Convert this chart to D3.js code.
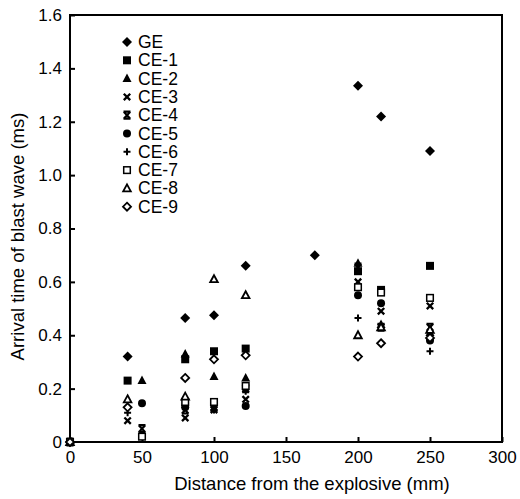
<!DOCTYPE html>
<html>
<head>
<meta charset="utf-8">
<script src="https://cdn.jsdelivr.net/npm/d3@7"></script>
<style>
  body { margin: 0; background: #fff; }
  svg { font-family: "Liberation Sans", Arial, sans-serif; }
</style>
</head>
<body>
<div id="chart-area"></div>
<script>
// each series: [distance (mm), arrival time (ms)]
const seriesNames = ["GE", "CE-1", "CE-2", "CE-3", "CE-4", "CE-5", "CE-6", "CE-7", "CE-8", "CE-9"];
const ge  = [[0, 0], [40, 0.32], [80, 0.465], [100, 0.475], [122, 0.66], [170, 0.70], [200, 1.335], [216, 1.22], [250, 1.09]];
const ce1 = [[0, 0], [40, 0.23], [80, 0.31], [100, 0.34], [122, 0.35], [200, 0.64], [216, 0.57], [250, 0.66]];
const ce2 = [[0, 0], [50, 0.23], [80, 0.33], [100, 0.245], [122, 0.24], [200, 0.67], [216, 0.44], [250, 0.41]];
const ce3 = [[0, 0], [40, 0.08], [80, 0.09], [100, 0.12], [122, 0.16], [200, 0.60], [216, 0.49], [250, 0.51]];
const ce4 = [[0, 0], [50, 0.05], [80, 0.12], [100, 0.13], [122, 0.20], [200, 0.655], [216, 0.43], [250, 0.43]];
const ce5 = [[0, 0], [50, 0.145], [80, 0.13], [100, 0.14], [122, 0.135], [200, 0.55], [216, 0.52], [250, 0.38]];
const ce6 = [[0, 0], [40, 0.11], [80, 0.14], [100, 0.12], [122, 0.19], [200, 0.465], [216, 0.44], [250, 0.34]];
const ce7 = [[0, 0], [50, 0.02], [80, 0.15], [100, 0.15], [122, 0.21], [200, 0.58], [216, 0.56], [250, 0.54]];
const ce8 = [[0, 0], [40, 0.16], [80, 0.17], [100, 0.61], [122, 0.55], [200, 0.40], [216, 0.43], [250, 0.42]];
const ce9 = [[0, 0], [40, 0.13], [80, 0.24], [100, 0.31], [122, 0.325], [200, 0.32], [216, 0.37], [250, 0.39]];
const seriesValues = [ge, ce1, ce2, ce3, ce4, ce5, ce6, ce7, ce8, ce9];
const markerTypes = ["diamond", "square", "triangle", "x", "star", "circle", "plus", "osquare", "otriangle", "odiamond"];

const xTicks = [0, 50, 100, 150, 200, 250, 300];
const yTicks = [0, 0.2, 0.4, 0.6, 0.8, 1.0, 1.2, 1.4, 1.6];

const width = 520, height = 499;
const margin = { top: 15, left: 70, right: 18, bottom: 57 };
const plotW = width - margin.left - margin.right;
const plotH = height - margin.top - margin.bottom;

const svg = d3.select("#chart-area")
              .append("svg")
              .attr("width", width)
              .attr("height", height);

const x = d3.scaleLinear().domain([0, 300]).range([0, plotW]);
const y = d3.scaleLinear().domain([0, 1.6]).range([plotH, 0]);

const plot = svg.append("g")
                .attr("transform", `translate(${margin.left},${margin.top})`);

plot.append("g")
    .attr("transform", `translate(0,${plotH})`)
    .call(d3.axisBottom(x).tickValues(xTicks).tickSize(-5).tickPadding(9))
    .call(g => g.select(".domain").remove())
    .call(g => g.selectAll("line").attr("stroke-width", 2))
    .call(g => g.selectAll("text").attr("font-size", 17).attr("fill", "#000"));

plot.append("g")
    .call(d3.axisLeft(y).tickValues(yTicks).tickSize(-5).tickPadding(8)
          .tickFormat(d => d === 0 ? "0" : d3.format(".1f")(d)))
    .call(g => g.select(".domain").remove())
    .call(g => g.selectAll("line").attr("stroke-width", 2))
    .call(g => g.selectAll("text").attr("font-size", 17).attr("fill", "#000"));

plot.append("rect")
    .attr("width", plotW)
    .attr("height", plotH)
    .attr("fill", "none")
    .attr("stroke", "#000")
    .attr("stroke-width", 2);

// marker drawing
const drawMarker = (g, type) => {
  const r = 4;
  const tri = `M0,${-r - 1}L${r + 0.5},${r - 0.5}L${-r - 0.5},${r - 0.5}Z`;
  const otri = "M0,-4L3.8,3L-3.8,3Z";
  const dia = `M0,${-r - 1}L${r + 1},0L0,${r + 1}L${-r - 1},0Z`;
  const odia = "M0,-4L4,0L0,4L-4,0Z";
  if (type === "diamond") g.append("path").attr("d", dia).attr("fill", "#000");
  if (type === "square") g.append("rect").attr("x", -4).attr("y", -4).attr("width", 8).attr("height", 8).attr("fill", "#000");
  if (type === "triangle") g.append("path").attr("d", tri).attr("fill", "#000");
  if (type === "circle") g.append("circle").attr("r", r).attr("fill", "#000");
  if (type === "osquare") g.append("rect").attr("x", -3.3).attr("y", -3.3).attr("width", 6.6).attr("height", 6.6)
                            .attr("fill", "#fff").attr("stroke", "#000").attr("stroke-width", 1.5);
  if (type === "otriangle") g.append("path").attr("d", otri).attr("fill", "#fff").attr("stroke", "#000").attr("stroke-width", 1.8);
  if (type === "odiamond") g.append("path").attr("d", odia).attr("fill", "#fff").attr("stroke", "#000").attr("stroke-width", 1.8);
  if (type === "x") g.append("path").attr("d", "M-3.2,-3.2L3.2,3.2M3.2,-3.2L-3.2,3.2")
                     .attr("stroke", "#000").attr("stroke-width", 2.3);
  if (type === "star") g.append("path").attr("d", "M-3.2,-3.5L3.2,3.5M3.2,-3.5L-3.2,3.5M-3.5,-3.5L3.5,-3.5M-3.5,3.5L3.5,3.5")
                        .attr("stroke", "#000").attr("stroke-width", 2.2);
  if (type === "plus") g.append("path").attr("d", "M-3.5,0L3.5,0M0,-3.5L0,3.5")
                        .attr("stroke", "#000").attr("stroke-width", 2);
};

seriesValues.forEach((vals, i) => {
  plot.append("g")
      .selectAll("g")
      .data(vals)
      .enter()
      .append("g")
      .attr("transform", d => `translate(${x(d[0])},${y(d[1])})`)
      .each(function () { drawMarker(d3.select(this), markerTypes[i]); });
});

// legend
const legend = svg.append("g").attr("transform", "translate(127,42)");
seriesNames.forEach((name, i) => {
  const row = legend.append("g").attr("transform", `translate(0,${i * 18.3})`);
  drawMarker(row, markerTypes[i]);
  row.append("text")
     .attr("x", 11)
     .attr("y", 6)
     .attr("font-size", 17.5)
     .text(name);
});

svg.append("text")
   .attr("text-anchor", "middle")
   .attr("x", margin.left + plotW / 2 + 26)
   .attr("y", 490)
   .attr("font-size", 18.5)
   .text("Distance from the explosive (mm)");

svg.append("text")
   .attr("text-anchor", "middle")
   .attr("transform", `translate(24,${margin.top + plotH / 2 + 8}) rotate(-90)`)
   .attr("font-size", 18.5)
   .text("Arrival time of blast wave (ms)");
</script>
</body>
</html>
